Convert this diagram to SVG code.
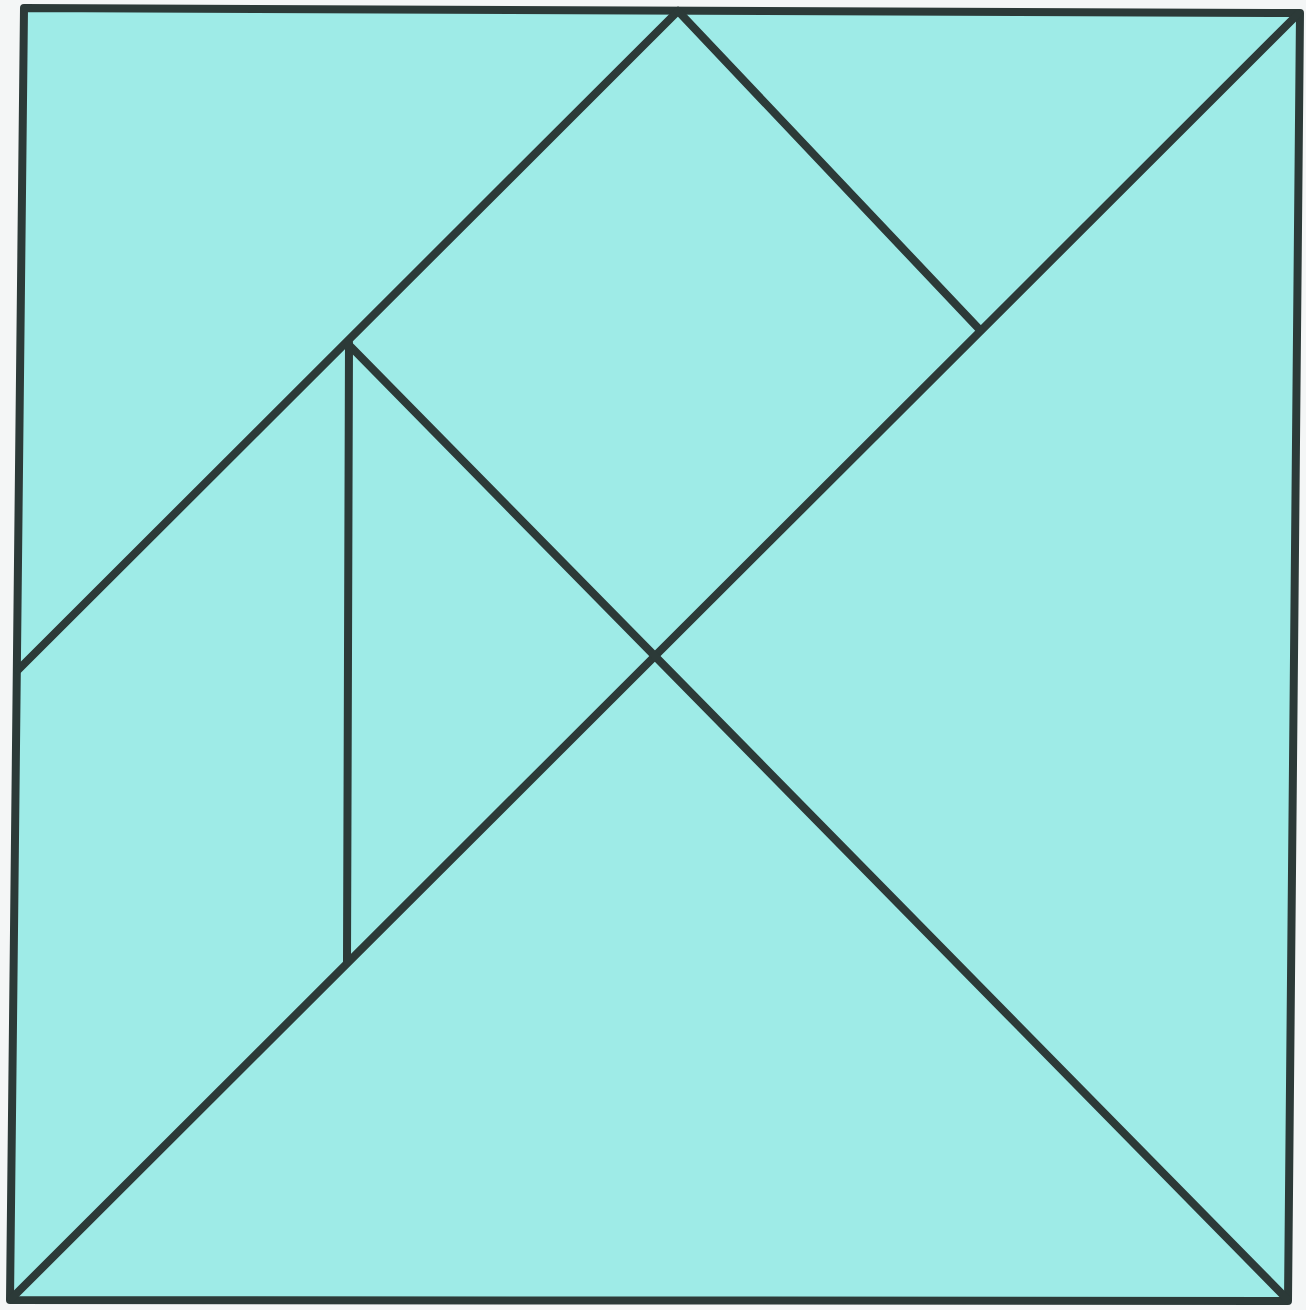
<svg xmlns="http://www.w3.org/2000/svg" width="1306" height="1310" viewBox="0 0 1306 1310">
<style>
.ln{stroke:#2c3a38;stroke-width:8;fill:none;stroke-linecap:round;stroke-linejoin:round}
</style>
<rect width="1306" height="1310" fill="#f4f6f6"/>
<g id="square">
<polygon points="24,8 1300,13 1288,1301 10,1300" class="ln" style="fill:#9eebe7"/>
</g>
<g id="connectors">
<line class="ln" x1="12" y1="1298" x2="1298" y2="14"/>
<line class="ln" x1="678" y1="11" x2="18" y2="670"/>
<line class="ln" x1="678" y1="11" x2="980" y2="330"/>
<line class="ln" x1="351" y1="347" x2="1286" y2="1298"/>
<line class="ln" x1="349" y1="343" x2="347" y2="962"/>
</g>
</svg>
